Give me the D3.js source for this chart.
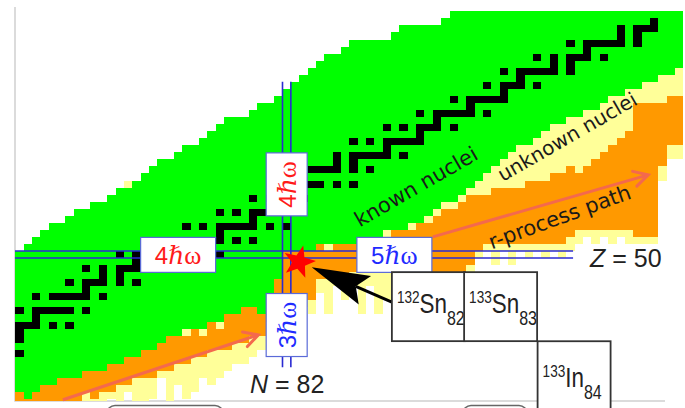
<!DOCTYPE html>
<html>
<head>
<meta charset="utf-8">
<script src="https://cdn.jsdelivr.net/npm/d3@7"></script>
<style>
  body { margin: 0; background: #fff; }
  svg { display: block; }
</style>
</head>
<body>
<div id="chart"></div>
<script>
// chart of nuclides around 132Sn : one entry per neutron number N = 50 .. 129
const nStart = 50;
// highest Z of known (green) nuclei
const greenTop = [50,51,52,53,54,54,55,56,56,57, 57,58,59,59,60,61,62,63,63,64,
                  65,65,66,67,68,69,69,69,70,71, 71,72,73,74,75,76,77,78,78,79,
                  80,80,80,80,80,81,82,82,82,82, 82,83,84,84,84,84,84,84,84,84,
                  84,84,84,84,84,84,84,84,84,84, 84,84,84,84,84,84,84,84,84,84];
// lowest Z of known (green) nuclei
const greenBot = [31,30,31,32,32,33,33,33,34,34, 34,35,35,36,36,37,37,38,39,39,
                  40,40,40,41,41,42,42,43,43,42, 44,47,51,51,51,51,52,52,52,52,
                  52,53,53,53,54,54,54,55,55,56, 57,58,58,59,60,61,62,63,64,65,
                  66,66,67,68,69,69,70,70,71,71, 72,73,73,74,74,75,75,76,76,77];
// top and bottom Z of the r-process (orange) band
const orangeTop = [30,29,30,31,31,32,32,32,33,33, 33,34,34,35,35,36,36,37,38,38,
                   38,39,38,40,39,41,41,42,42,41, 43,46,50,50,50,50,51,50,51,51,
                   51,52,52,52,52,53,53,53,54,54, 55,56,56,57,58,58,58,59,59,59,
                   59,60,60,60,61,61,62,61,62,63, 64,65,66,67,71,71,71,71,72,72];
const orangeBot = [29,29,29,29,29,29,29,29,31,30, 31,31,32,32,33,33,33,34,34,35,
                   35,36,36,37,37,37,38,38,39,39, 41,43,44,44,44,44,47,47,48,47,
                   48,48,48,48,48,48,47,47,47,47, 48,48,48,48,49,51,52,52,52,52,
                   52,52,52,52,52,52,53,54,54,54, 54,54,54,54,53,53,53,63,66,66];
// lowest Z of unknown (yellow) nuclei below the orange band
const yellowBot = [29,29,29,29,29,29,29,29,29,29, 29,30,29,31,29,29,30,33,29,32,
                   30,31,33,32,33,34,35,35,36,37, 39,40,42,42,43,42,45,42,46,44,
                   46,42,46,42,44,46,46,46,46,46, 46,46,46,46,46,50,51,49,51,49,
                   51,50,51,50,51,50,51,52,53,52, 53,52,53,52,52,52,52,61,64,64];
// odd single unknown cells [N, Z]
const extraYellow = [[63, 60]];

// stable nuclei: [Z, list of N]
const stable = [
  [36, [50]], [38, [50]], [39, [50]], [40, [50,51,52,54,56]], [41, [52]],
  [42, [50,52,53,54,55,56,58]], [44, [52,54,55,56,57,58,60]], [45, [58]],
  [46, [56,58,59,60,62,64]], [47, [60,62]], [48, [58,60,62,63,64,65,66,68]],
  [49, [64,66]], [50, [62,64,65,66,67,68,69,70,72,74]], [51, [70,72]],
  [52, [68,70,71,72,73,74,76,78]], [53, [74]], [54, [70,72,74,75,76,77,78,80,82]],
  [55, [78]], [56, [74,76,78,79,80,81,82]], [57, [82]], [58, [78,80,82,84]],
  [59, [82]], [60, [82,83,84,85,86,88,90]], [62, [82,85,86,87,88,90,92]],
  [63, [88,90]], [64, [88,90,91,92,93,94,96]], [65, [94]],
  [66, [90,92,94,95,96,97,98]], [67, [98]], [68, [94,96,98,99,100,102]],
  [69, [100]], [70, [98,100,101,102,103,104,106]], [71, [104]],
  [72, [102,104,105,106,107,108]], [73, [108]], [74, [106,108,109,110,112]],
  [75, [110]], [76, [108,110,111,112,113,114,116]], [77, [114,116]],
  [78, [112,114,116,117,118,120]], [79, [118]], [80, [116,118,119,120,121,122,124]],
  [81, [122,124]], [82, [122,124,125,126]], [83, [126]]
];

// shell gap labels: number, colour, centre N, centre Z, vertical?
const gapLabels = [
  {t: "4", c: "#ff1a1a", n: 69.5, z: 50.45, v: false},
  {t: "4", c: "#ff1a1a", n: 82.5, z: 60.45, v: true},
  {t: "5", c: "#1f2bff", n: 95.4, z: 50.45, v: false},
  {t: "3", c: "#1f2bff", n: 82.5, z: 40.5, v: true}
];
// nuclide boxes: mass, symbol, neutrons
const boxes = [
  {a: "132", s: "Sn", b: "82"},
  {a: "133", s: "Sn", b: "83"},
  {a: "133", s: "In", b: "84"}
];

const GREEN = "#00ff00", ORANGE = "#ff9900", YELLOW = "#ffff99";
const width = 685, height = 408;

// column N spans x(N)..x(N+1), row Z spans y(Z+1)..y(Z)
const x = d3.scaleLinear().domain([82, 83]).range([282.5, 290.85]);
const y = d3.scaleLinear().domain([51, 50]).range([251, 258.05]);

const svg = d3.select("#chart").append("svg")
  .attr("width", width).attr("height", height);

svg.append("defs").append("clipPath").attr("id", "plotClip")
  .append("rect").attr("x", 15).attr("y", 0).attr("width", 670).attr("height", 401);

// frame
svg.append("path")
  .attr("d", "M15,7V401H665")
  .attr("fill", "none").attr("stroke", "#cfcfcf").attr("stroke-width", 1.5);

// cells
let cells = [];
greenTop.forEach(function(gt, i) {
  const n = nStart + i;
  for (let z = 29; z <= gt; z++) {
    let c = null;
    if (z >= greenBot[i]) c = GREEN;
    else if (z > orangeTop[i]) c = YELLOW;
    else if (z >= orangeBot[i]) c = ORANGE;
    else if (z >= yellowBot[i]) c = YELLOW;
    if (c) cells.push({n: n, z: z, c: c});
  }
});
extraYellow.forEach(function(d) { cells.push({n: d[0], z: d[1], c: YELLOW}); });
stable.forEach(function(d) {
  d[1].forEach(function(n) { cells.push({n: n, z: d[0], c: "#000"}); });
});

svg.append("g").attr("clip-path", "url(#plotClip)")
  .attr("shape-rendering", "crispEdges")
  .selectAll("rect")
  .data(cells)
  .enter().append("rect")
  .attr("x", function(d) { return x(d.n); })
  .attr("y", function(d) { return y(d.z + 1); })
  .attr("width", function(d) { return x(d.n + 1) - x(d.n); })
  .attr("height", function(d) { return y(d.z) - y(d.z + 1); })
  .attr("fill", function(d) { return d.c; });

// magic number lines Z = 50 and N = 82
const blue = "#2a2ad2";
[51, 50].forEach(function(v) {
  svg.append("line")
    .attr("x1", 15).attr("x2", x(116.8))
    .attr("y1", y(v)).attr("y2", y(v))
    .attr("stroke", blue).attr("stroke-width", 1.6);
});
[82, 83].forEach(function(v) {
  svg.append("line")
    .attr("x1", x(v)).attr("x2", x(v))
    .attr("y1", y(75)).attr("y2", y(34.5))
    .attr("stroke", blue).attr("stroke-width", 1.6);
});

// r-process arrows
const salmon = "#f4694d";
function arrow(n1, z1, n2, z2) {
  const x1 = x(n1), y1 = y(z1), x2 = x(n2), y2 = y(z2);
  const a = Math.atan2(y2 - y1, x2 - x1);
  const h = 16, w = 0.5;
  svg.append("line")
    .attr("x1", x1).attr("y1", y1).attr("x2", x2).attr("y2", y2)
    .attr("stroke", salmon).attr("stroke-width", 3);
  svg.append("path")
    .attr("d", "M" + (x2 - h * Math.cos(a - w)) + "," + (y2 - h * Math.sin(a - w)) +
               "L" + x2 + "," + y2 +
               "L" + (x2 - h * Math.cos(a + w)) + "," + (y2 - h * Math.sin(a + w)))
    .attr("fill", "none").attr("stroke", salmon).attr("stroke-width", 3)
    .attr("stroke-linecap", "round");
}
arrow(55.7, 29.9, 79.1, 39.1);
arrow(100.0, 53.0, 125.8, 61.8);

// region labels
function slanted(txt, n, z, rot, fs) {
  svg.append("text")
    .attr("transform", "translate(" + x(n) + "," + y(z) + ") rotate(" + rot + ")")
    .attr("text-anchor", "middle")
    .attr("dominant-baseline", "central")
    .style("font-family", "'DejaVu Sans', Verdana, sans-serif")
    .style("font-size", fs + "px")
    .style("fill", "#1a1a1a")
    .text(txt);
}
slanted("known nuclei", 98.0, 60.1, -30, 21);
slanted("unknown nuclei", 116.1, 67.2, -30, 20);
slanted("r-process path", 115.2, 55.8, -20, 21);

// shell gap boxes
gapLabels.forEach(function(d) {
  const cx = x(d.n), cy = y(d.z);
  const bw = d.v ? 41 : 75, bh = d.v ? 63 : 35;
  svg.append("rect")
    .attr("x", cx - bw / 2).attr("y", cy - bh / 2)
    .attr("width", bw).attr("height", bh)
    .attr("fill", "#fff").attr("stroke", "#5a6ad8").attr("stroke-width", 1.2);
  const t = svg.append("text")
    .attr("transform", "translate(" + cx + "," + cy + ")" + (d.v ? " rotate(-90)" : ""))
    .attr("text-anchor", "middle")
    .attr("dominant-baseline", "central")
    .style("fill", d.c);
  t.append("tspan").style("font-family", "'Liberation Sans', Arial, sans-serif")
    .style("font-size", "24px").text(d.t);
  t.append("tspan").style("font-family", "'DejaVu Serif', serif").style("font-style", "italic")
    .style("font-size", "25px").text("\u210F");
  t.append("tspan").style("font-family", "'Liberation Serif', serif")
    .style("font-size", "26px").text("\u03C9");
});

// pointer from the 132Sn box to the star
(function() {
  const tx = x(95.1), ty = y(43.76), px = x(85.5), py = y(48.7);
  const a = Math.atan2(ty - py, tx - px);
  const ux = Math.cos(a), uy = Math.sin(a), vx = -uy, vy = ux;
  const L = 58, W = 15.5, K = 48;
  svg.append("line")
    .attr("x1", tx).attr("y1", ty).attr("x2", px + ux * K).attr("y2", py + uy * K)
    .attr("stroke", "#000").attr("stroke-width", 3);
  svg.append("path")
    .attr("d", "M" + px + "," + py +
      "L" + (px + ux * L + vx * W) + "," + (py + uy * L + vy * W) +
      "L" + (px + ux * K) + "," + (py + uy * K) +
      "L" + (px + ux * L - vx * W) + "," + (py + uy * L - vy * W) + "Z")
    .attr("fill", "#000");
})();

// star on 132Sn
(function() {
  const cx = x(83.98), cy = y(49.44), R = 17, r = 7;
  const pts = d3.range(10).map(function(k) {
    const rad = k % 2 ? r : R;
    const ang = -Math.PI / 2 + k * Math.PI / 5 + 0.25;
    return [cx + rad * Math.cos(ang), cy + rad * Math.sin(ang)];
  });
  svg.append("path").attr("d", d3.line()(pts) + "Z").attr("fill", "#ff0000");
})();

// nuclide boxes
const bx = [[95.1, 48.0, 41], [103.75, 48.0, 41], [112.55, 38.2, 46]];
boxes.forEach(function(d, i) {
  const x0 = x(bx[i][0]), y0 = y(bx[i][1]);
  const bw = 73, bh = 69;
  svg.append("rect")
    .attr("x", x0).attr("y", y0).attr("width", bw).attr("height", bh)
    .attr("fill", "#fff").attr("stroke", "#333").attr("stroke-width", 1.8);
  const t = svg.append("text")
    .attr("transform", "translate(" + (x0 + 5) + "," + (y0 + bx[i][2]) + ") scale(0.8,1)")
    .style("font-family", "'Liberation Sans', Arial, sans-serif")
    .style("fill", "#222");
  t.append("tspan").attr("dy", -10).style("font-size", "17px").text(d.a);
  t.append("tspan").attr("dy", 10).style("font-size", "28px").text(d.s);
  t.append("tspan").attr("dy", 12).style("font-size", "20px").text(d.b);
});

// magic number captions
function caption(sym, val, px, py) {
  const t = svg.append("text").attr("x", px).attr("y", py)
    .style("font-family", "'Liberation Sans', Arial, sans-serif")
    .style("font-size", "25px").style("fill", "#222");
  t.append("tspan").style("font-style", "italic").text(sym);
  t.append("tspan").text(" = " + val);
}
caption("Z", 50, 590, 267);
caption("N", 82, 250, 393);

// cut-off shapes at the bottom edge
[[107, 116], [463, 64]].forEach(function(d) {
  svg.append("rect").attr("x", d[0]).attr("y", 405.5).attr("width", d[1]).attr("height", 20)
    .attr("rx", 8).attr("fill", "none").attr("stroke", "#666").attr("stroke-width", 1.5);
});
</script>
</body>
</html>
